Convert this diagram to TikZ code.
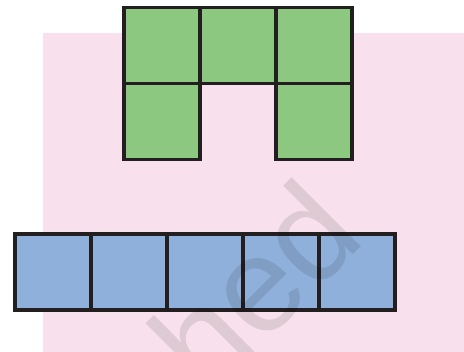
\documentclass[tikz,border=0pt]{standalone}
\usepackage{fontspec}
\setsansfont{Liberation Sans}
\usetikzlibrary{positioning}
\definecolor{sqgreen}{RGB}{140,200,128}
\definecolor{sqblue}{RGB}{143,176,219}
\definecolor{bgpink}{RGB}{248,225,236}
\definecolor{sqedge}{RGB}{35,31,32}
\tikzset{
  sq/.style={draw=sqedge,rectangle,minimum size=76pt,line width=3.5pt,outer sep=0pt,inner sep=0pt},
  gsq/.style={sq,fill=sqgreen},
  bsq/.style={sq,fill=sqblue},
  wmark/.style={font=\fontsize{135}{135}\selectfont\sffamily,inner sep=0pt,text=black,text opacity=0.1,rotate=45}
}
\begin{document}
\begin{tikzpicture}[x=1pt,y=-1pt,node distance=0pt]
  \useasboundingbox (0,0) rectangle (464,352);
  \clip (0,0) rectangle (464,352);
  \fill[bgpink] (43,33) rectangle (464,352);

  % green shape
  \node[gsq] (g1) at (162,45.5) {};
  \node[gsq, right=of g1] (g2) {};
  \node[gsq, right=of g2] (g3) {};
  \node[gsq, below=of g1] (g4) {};
  \node[gsq, below=of g3] (g5) {};

  % blue strip
  \node[bsq] (b1) at (53,272) {};
  \node[bsq, right=of b1] (b2) {};
  \node[bsq, right=of b2] (b3) {};
  \node[bsq, right=of b3] (b4) {};
  \node[bsq, right=of b4] (b5) {};

  \node[wmark, anchor=base east] (wm) at (368,240) {hed};
\end{tikzpicture}
\end{document}
